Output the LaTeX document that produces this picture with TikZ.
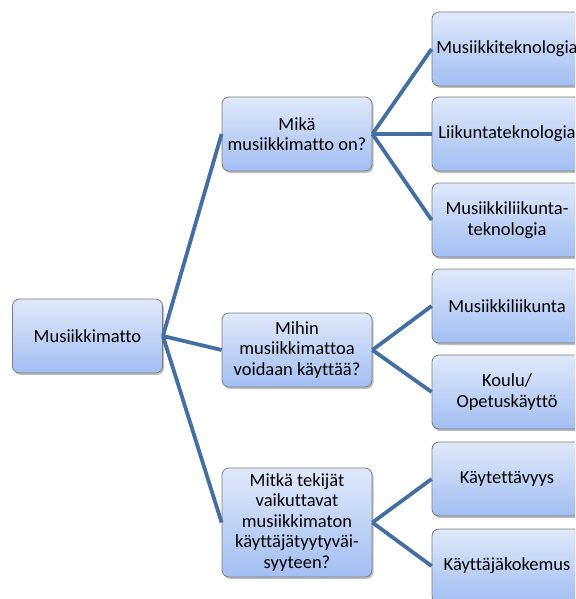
\documentclass[tikz,border=0pt]{standalone}
\usepackage{fontspec}
\setmainfont{Carlito}[Ligatures=NoCommon]
\usetikzlibrary{shadows}
\definecolor{linkcol}{RGB}{68,111,163}
\definecolor{boxtop}{RGB}{224,233,251}
\definecolor{boxbot}{RGB}{162,190,242}
\definecolor{boxedge}{RGB}{125,125,125}
\tikzset{
  mapbox/.style={rectangle, rounded corners=7pt, draw=boxedge, line width=0.8pt,
    top color=boxtop, bottom color=boxbot, minimum width=150pt, minimum height=74pt,
    align=center, inner sep=2pt, font=\fontsize{18.5}{20.5}\selectfont,
    drop shadow={shadow xshift=1.5pt, shadow yshift=-2pt, opacity=0.25, fill=black}},
  link/.style={draw=linkcol, line width=3.8pt}
}
\begin{document}
\begin{tikzpicture}[x=1pt,y=1pt]
\useasboundingbox (0,0) rectangle (575,-599);
\clip (0,0) rectangle (575,-599);
\node[mapbox] (root) at (87.5,-336) {Musiikkimatto};
\node[mapbox] (q1) at (297,-134) {Mikä\\musiikkimatto on?};
\node[mapbox] (q2) at (297,-350) {Mihin\\musiikkimattoa\\voidaan käyttää?};
\node[mapbox, minimum height=109pt] (q3) at (297,-522.5) {Mitkä tekijät\\vaikuttavat\\musiikkimaton\\käyttäjätyytyväi-\\syyteen?};
\node[mapbox] (a1) at (507,-49) {Musiikkiteknologia};
\node[mapbox] (a2) at (507,-134) {Liikuntateknologia};
\node[mapbox] (a3) at (507,-220) {Musiikkiliikunta-\\teknologia};
\node[mapbox] (b1) at (507,-306) {Musiikkiliikunta};
\node[mapbox] (b2) at (507,-392) {Koulu/\\Opetuskäyttö};
\node[mapbox] (c1) at (507,-479) {Käytettävyys};
\node[mapbox] (c2) at (507,-566) {Käyttäjäkokemus};
\draw[link] (root.east) -- (q1.west);
\draw[link] (root.east) -- (q2.west);
\draw[link] (root.east) -- (q3.west);
\draw[link] (q1.east) -- (a1.west);
\draw[link] (q1.east) -- (a2.west);
\draw[link] (q1.east) -- (a3.west);
\draw[link] (q2.east) -- (b1.west);
\draw[link] (q2.east) -- (b2.west);
\draw[link] (q3.east) -- (c1.west);
\draw[link] (q3.east) -- (c2.west);
\end{tikzpicture}
\end{document}
